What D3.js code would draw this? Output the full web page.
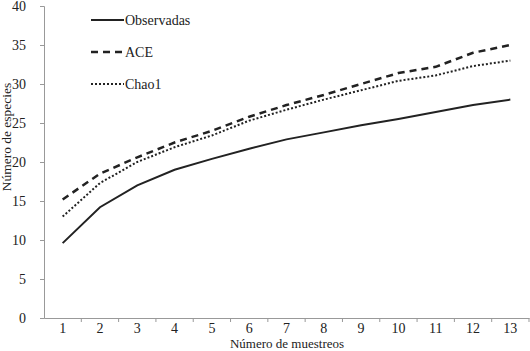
<!DOCTYPE html>
<html><head><meta charset="utf-8">
<script src="https://cdn.jsdelivr.net/npm/d3@7"></script>
<style>body{margin:0;background:#fff}svg{display:block}</style>
</head><body>
<svg id="c" width="530" height="351"></svg>
<script>
const categories = [1,2,3,4,5,6,7,8,9,10,11,12,13];
const observadas = [9.6,14.2,17.0,19.0,20.4,21.7,22.9,23.8,24.7,25.5,26.4,27.3,28.0];
const ace = [15.2,18.5,20.6,22.5,24.0,25.8,27.3,28.6,30.0,31.4,32.2,34.0,35.0];
const chao1 = [13.0,17.3,20.0,21.9,23.4,25.3,26.7,28.0,29.2,30.4,31.1,32.3,33.0];
const yTicks = [0,5,10,15,20,25,30,35,40];
const seriesNames = ["Observadas","ACE","Chao1"];

const svg = d3.select("#c");
const font = "'Liberation Serif','Times New Roman',serif";
const L=44, R=529, T=6, B=318;
const x = d3.scaleBand().domain(categories).range([L,R]);
const y = d3.scaleLinear().domain([0,40]).range([B,T]);

// axes
const yAx = svg.append("g").attr("transform",`translate(${L},0)`)
  .call(d3.axisLeft(y).tickValues(yTicks).tickSize(4).tickPadding(14));
const xAx = svg.append("g").attr("transform",`translate(0,${B})`)
  .call(d3.axisBottom(x).tickSize(0).tickPadding(10));
xAx.selectAll(".bt").data(categories).enter().append("line")
  .attr("x1",d=>x(d)+x.bandwidth()).attr("x2",d=>x(d)+x.bandwidth())
  .attr("y1",0).attr("y2",4).attr("stroke","#999");
[yAx,xAx].forEach(g=>{
  g.selectAll(".domain").attr("stroke","#999");
  g.selectAll(".tick line").attr("stroke","#999");
  g.selectAll("text").attr("font-family",font).attr("font-size",14).attr("fill","#222");
});
xAx.selectAll(".tick text").attr("y",14.5).attr("dy",0);

const line = d3.line().x((d,i)=>x(categories[i])+x.bandwidth()/2).y(d=>y(d));
const styles = [
  {data:observadas, dash:null, w:2},
  {data:ace, dash:"7,5", w:2.5},
  {data:chao1, dash:"2,2", w:2}
];
styles.forEach(s=>{
  svg.append("path").datum(s.data).attr("d",line).attr("fill","none")
    .attr("stroke","#222").attr("stroke-width",s.w)
    .attr("stroke-dasharray",s.dash);
});

// legend
const lg = svg.append("g");
seriesNames.forEach((n,i)=>{
  const yy = 20 + i*32;
  lg.append("line").attr("x1",91).attr("x2",124).attr("y1",yy).attr("y2",yy)
    .attr("stroke","#222").attr("stroke-width",styles[i].w)
    .attr("stroke-dasharray",styles[i].dash);
  lg.append("text").attr("x",125).attr("y",yy+5).text(n)
    .attr("font-family",font).attr("font-size",14).attr("fill","#222");
});

// axis titles
svg.append("text").attr("x",287).attr("y",347.5).attr("text-anchor","middle")
  .attr("font-family",font).attr("font-size",13).attr("fill","#222")
  .text("Número de muestreos");
svg.append("text").attr("transform","translate(11,137) rotate(-90)")
  .attr("text-anchor","middle").attr("font-family",font).attr("font-size",13.5).attr("fill","#222")
  .text("Número de especies");
</script>
</body></html>
